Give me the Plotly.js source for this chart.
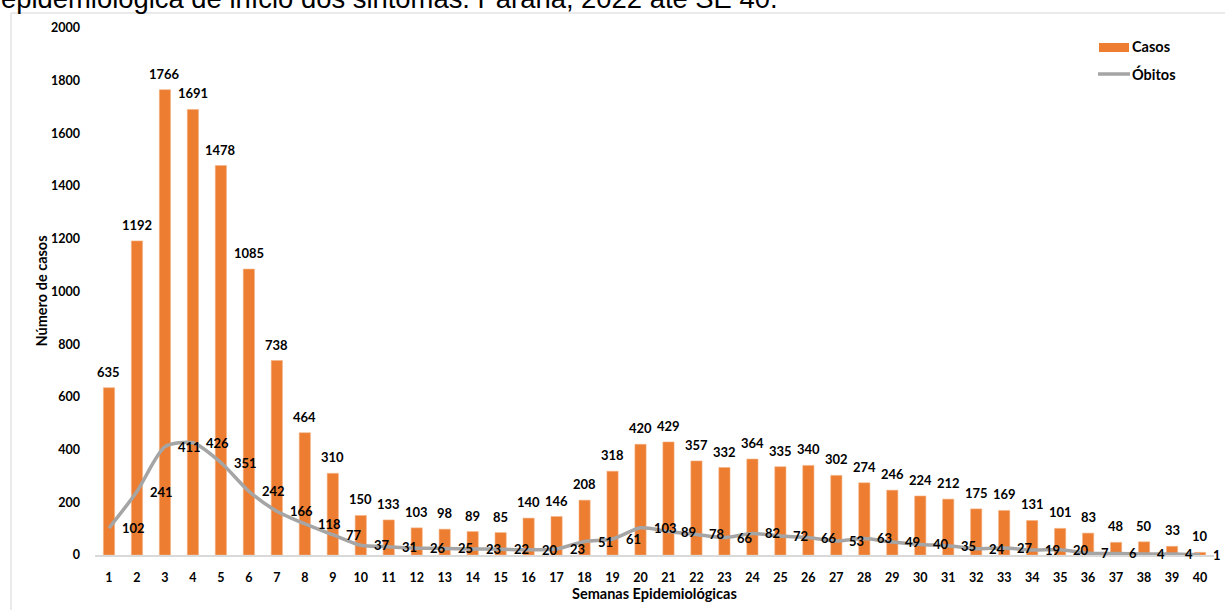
<!DOCTYPE html>
<html>
<head>
<meta charset="utf-8">
<script src="https://cdn.plot.ly/plotly-3.0.1.min.js"></script>
<style>
html,body{margin:0;padding:0;background:#fff;}
#chart{width:1225px;height:610px;}
</style>
</head>
<body>
<div id="chart"></div>
<script>
// ---- data ----
const semanas = [1,2,3,4,5,6,7,8,9,10,11,12,13,14,15,16,17,18,19,20,21,22,23,24,25,26,27,28,29,30,31,32,33,34,35,36,37,38,39,40];
const casos = [635,1192,1766,1691,1478,1085,738,464,310,150,133,103,98,89,85,140,146,208,318,420,429,357,332,364,335,340,302,274,246,224,212,175,169,131,101,83,48,50,33,10];
const obitos = [102,241,411,426,351,242,166,118,77,37,31,26,25,23,22,20,23,51,61,103,89,78,66,82,72,66,53,63,49,40,35,24,27,19,20,7,6,4,4,1];
const serieNomes = ["Casos", "Óbitos"];
const tituloTexto = "epidemiológica de início dos sintomas. Paraná, 2022 até SE 40.";
const eixoX = "Semanas Epidemiológicas";
const eixoY = "Número de casos";

// ---- layout geometry (pixels) ----
const W = 1225, H = 610;
const L = 95, R = 1214, T = 28, B = 555;
const px2x = p => (p - L) / (R - L);
const py2y = p => (B - p) / (B - T);

const FONT = "Lato, 'Open Sans', sans-serif";
const tick = {family: FONT, size: 12.5, color: "#000", weight: 700};
const lbl = {family: FONT, size: 13, color: "#000", weight: 700};
const big = {family: FONT, size: 14.5, color: "#000", weight: 700};

const traces = [
  {
    type: "bar", x: semanas, y: casos, name: serieNomes[0], width: 0.4,
    marker: {color: "#ED7D31", line: {color: "#F4B183", width: 0.6}},
    hoverinfo: "x+y", showlegend: false
  },
  {
    type: "scatter", mode: "lines", x: semanas, y: obitos, name: serieNomes[1],
    line: {color: "#A5A5A5", width: 3.5, shape: "spline", smoothing: 0.7},
    hoverinfo: "x+y", showlegend: false
  }
];

const annotations = [];
semanas.forEach((w, i) => {
  annotations.push({x: w, y: casos[i], xref: "x", yref: "y", text: String(casos[i]),
    showarrow: false, xanchor: "center", yanchor: "bottom", yshift: 6, font: lbl});
  annotations.push({x: w, y: obitos[i], xref: "x", yref: "y", text: String(obitos[i]),
    showarrow: false, xanchor: "left", yanchor: "middle", xshift: 11, font: lbl});
});
// title fragment at top (cut off in the original)
annotations.push({x: px2x(-1), y: py2y(16), xref: "paper", yref: "paper", text: tituloTexto,
  showarrow: false, xanchor: "left", yanchor: "bottom",
  font: {family: "Liberation Sans, Arial, sans-serif", size: 27.4, color: "#000"}});
// legend texts
annotations.push({x: px2x(1130), y: py2y(47), xref: "paper", yref: "paper", text: serieNomes[0],
  showarrow: false, xanchor: "left", yanchor: "middle", font: big});
annotations.push({x: px2x(1130), y: py2y(74), xref: "paper", yref: "paper", text: serieNomes[1],
  showarrow: false, xanchor: "left", yanchor: "middle", font: big});
// y axis title
annotations.push({x: px2x(41), y: 0.5, xref: "paper", yref: "paper", text: eixoY, textangle: -90,
  showarrow: false, xanchor: "center", yanchor: "middle", font: big});
// x axis title
annotations.push({x: 0.5, y: py2y(593), xref: "paper", yref: "paper", text: eixoX,
  showarrow: false, xanchor: "center", yanchor: "middle", font: big});

const shapes = [
  // chart area border (left + top)
  {type: "line", xref: "paper", yref: "paper", x0: px2x(11), x1: px2x(11), y0: py2y(13), y1: py2y(700),
   line: {color: "#E3E3E3", width: 1.5}},
  {type: "line", xref: "paper", yref: "paper", x0: px2x(11), x1: px2x(1300), y0: py2y(13), y1: py2y(13),
   line: {color: "#E3E3E3", width: 1.5}},
  // legend symbols
  {type: "rect", xref: "paper", yref: "paper", x0: px2x(1099), x1: px2x(1129), y0: py2y(52), y1: py2y(43),
   fillcolor: "#ED7D31", line: {width: 0}},
  {type: "line", xref: "paper", yref: "paper", x0: px2x(1098), x1: px2x(1130), y0: py2y(74), y1: py2y(74),
   line: {color: "#A5A5A5", width: 3.5}}
];

const layout = {
  width: W, height: H,
  margin: {l: L, r: W - R, t: T, b: H - B, pad: 0},
  paper_bgcolor: "#fff", plot_bgcolor: "#fff",
  showlegend: false,
  xaxis: {
    range: [0.5, 40.5], tickmode: "array", tickvals: semanas, ticktext: semanas.map(String),
    showgrid: false, zeroline: false, showline: true, linecolor: "#D9D9D9", linewidth: 1.5,
    ticks: "", ticklabelstandoff: 10, tickfont: tick, fixedrange: true
  },
  yaxis: {
    range: [0, 2000], tickmode: "array", tickvals: [0,200,400,600,800,1000,1200,1400,1600,1800,2000],
    showgrid: false, zeroline: false, showline: false, ticks: "", ticklabelstandoff: 14,
    tickfont: tick, fixedrange: true
  },
  annotations: annotations,
  shapes: shapes
};

Plotly.newPlot("chart", traces, layout, {displayModeBar: false, staticPlot: true});
</script>
</body>
</html>
